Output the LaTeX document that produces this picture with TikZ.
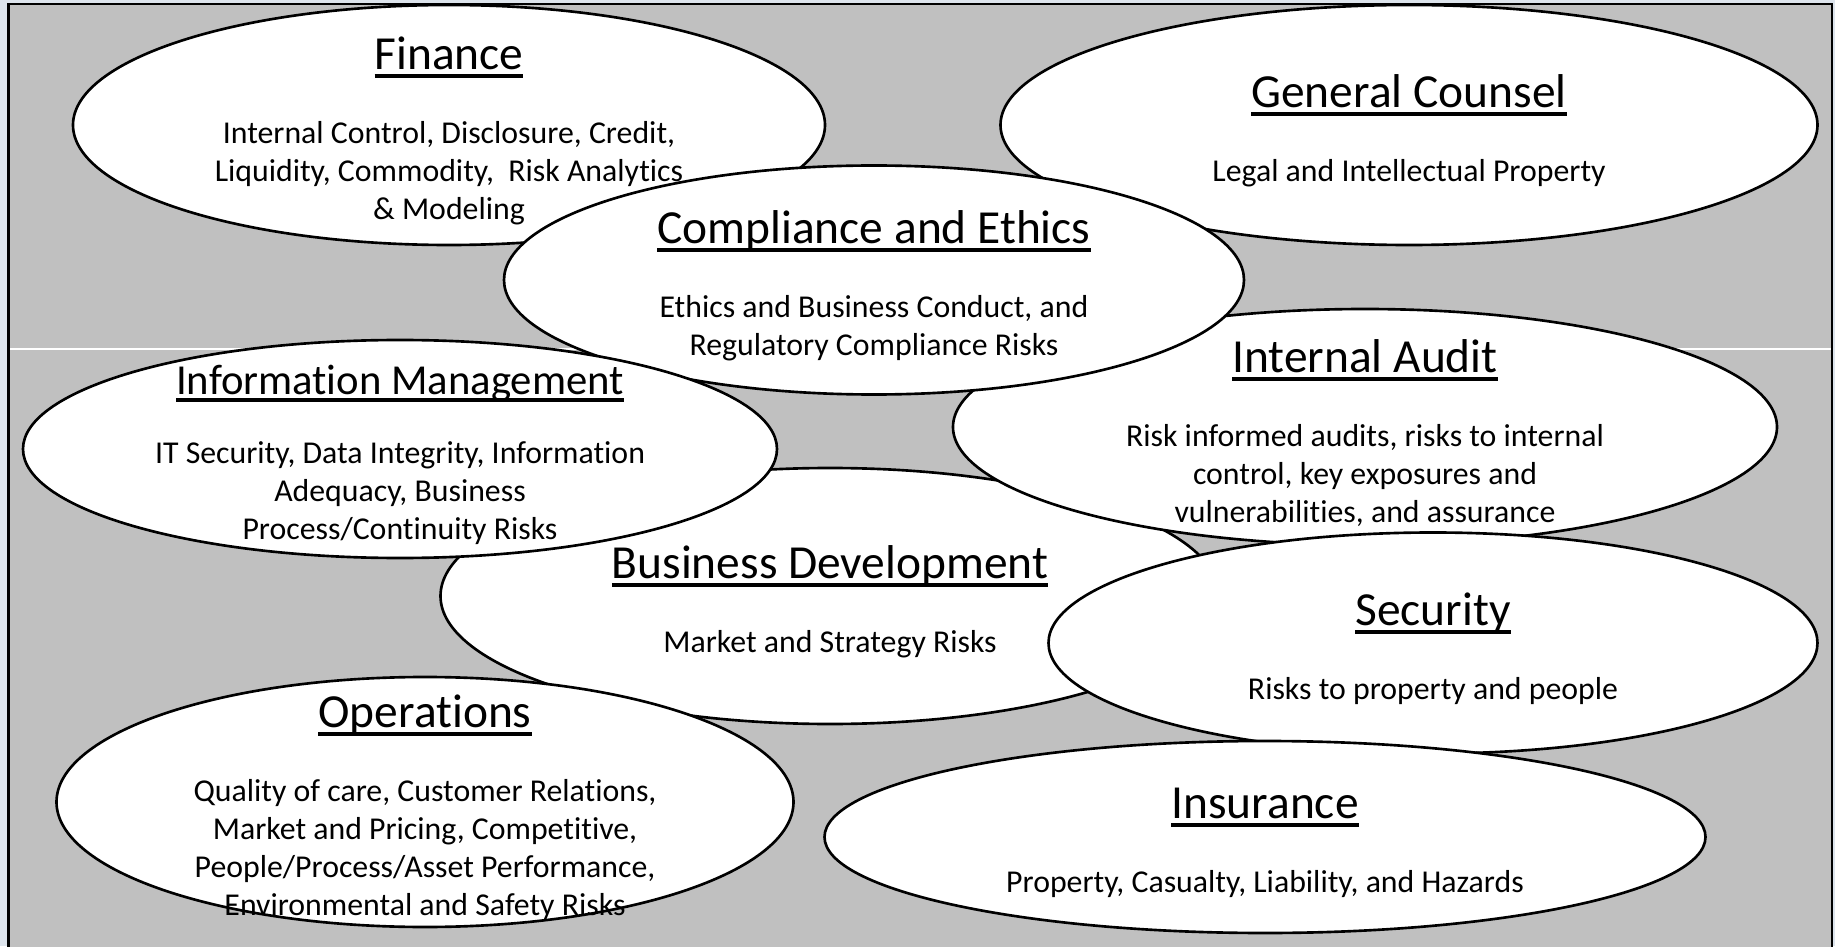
\documentclass[tikz,border=0pt]{standalone}
\usepackage{fontspec}
\setmainfont{Carlito}[Ligatures=NoCommon]
\usepackage{tikz}
\usetikzlibrary{shapes.geometric}
\definecolor{SlideBack}{RGB}{221,228,236}
\definecolor{PanelGray}{RGB}{192,192,192}
\newcommand{\titlefont}{\fontsize{13.5pt}{16.2pt}\selectfont}
\newcommand{\smalltitlefont}{\fontsize{12.15pt}{14.6pt}\selectfont}
\newcommand{\bodyfont}{\fontsize{9.05pt}{10.8pt}\selectfont}
% underline sitting just under the baseline
\newcommand{\uhead}[1]{\setbox0\hbox{#1}\rlap{\vrule height -0.09em depth 0.17em width \wd0}\box0}

\begin{document}
\begin{tikzpicture}[
    zone/.style={ellipse,draw=black,line width=0.75pt,fill=white,inner sep=0pt},
    desc/.style={align=center,font=\bodyfont,inner sep=0pt,yshift=-0.06cm}
  ]
  \useasboundingbox (0,0) rectangle (18.35,9.46);
  \fill[SlideBack] (0,0) rectangle (18.35,9.46);
  \draw[fill=PanelGray,line width=0.6pt] (0.085,-0.2) rectangle (18.32,9.42);
  \draw[white,line width=0.3pt] (0.1,5.97) -- (18.31,5.97);

  % top row
  \node[zone,minimum width=7.52cm,minimum height=2.40cm] (fin) at (4.49,8.21) {};
  \node[desc] (fin-txt) at (fin.center) {{\titlefont\uhead{Finance}}\\[10.2pt]
    Internal Control, Disclosure, Credit,\\Liquidity, Commodity,\ \ Risk Analytics\\\& Modeling};
  \node[zone,minimum width=8.17cm,minimum height=2.40cm] (gc) at (14.09,8.21) {};
  \node[desc] (gc-txt) at (gc.center) {{\titlefont\uhead{General Counsel}}\\[10.2pt]
    Legal and Intellectual Property};

  % middle
  \node[zone,minimum width=7.79cm,minimum height=2.56cm] (bd) at (8.30,3.50) {};
  \node[desc] (bd-txt) at (bd.center) {{\titlefont\uhead{Business Development}}\\[10.2pt]
    Market and Strategy Risks};
  \node[zone,minimum width=8.24cm,minimum height=2.36cm] (ia) at (13.65,5.19) {};
  \node[desc] (ia-txt) at (ia.center) {{\titlefont\uhead{Internal Audit}}\\[10.2pt]
    Risk informed audits, risks to internal\\control, key exposures and\\vulnerabilities, and assurance};
  \node[zone,minimum width=7.40cm,minimum height=2.29cm] (ce) at (8.74,6.66) {};
  \node[desc] (ce-txt) at (ce.center) {{\titlefont\uhead{Compliance and Ethics}}\\[10.2pt]
    Ethics and Business Conduct, and\\Regulatory Compliance Risks};
  \node[zone,minimum width=7.54cm,minimum height=2.18cm] (im) at (4.00,4.97) {};
  \node[desc] (im-txt) at (im.center) {{\smalltitlefont\uhead{Information Management}}\\[9pt]
    IT Security, Data Integrity, Information\\Adequacy, Business\\Process/Continuity Risks};
  \node[zone,minimum width=7.69cm,minimum height=2.21cm] (sec) at (14.33,3.03) {};
  \node[desc] (sec-txt) at (sec.center) {{\titlefont\uhead{Security}}\\[10.2pt]
    Risks to property and people};

  % bottom row
  \node[zone,minimum width=7.37cm,minimum height=2.50cm] (ops) at (4.25,1.44) {};
  \node[desc] (ops-txt) at (ops.center) {{\titlefont\uhead{Operations}}\\[10.2pt]
    Quality of care, Customer Relations,\\Market and Pricing, Competitive,\\
    People/Process/Asset Performance,\\Environmental and Safety Risks};
  \node[zone,minimum width=8.81cm,minimum height=1.92cm] (ins) at (12.65,1.09) {};
  \node[desc] (ins-txt) at (ins.center) {{\titlefont\uhead{Insurance}}\\[10.2pt]
    Property, Casualty, Liability, and Hazards};
\end{tikzpicture}
\end{document}
